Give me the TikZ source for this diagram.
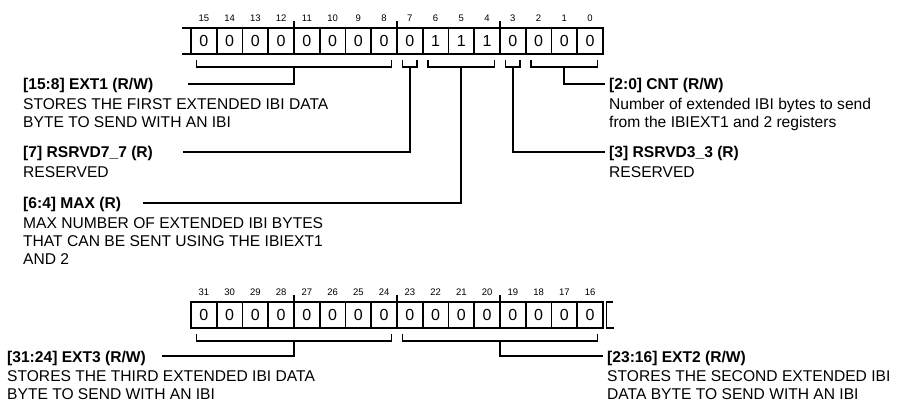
\documentclass[tikz,border=0pt]{standalone}
\usepackage{fontspec}
\setmainfont{Liberation Sans}
\usetikzlibrary{positioning, calc}

\begin{document}
\begin{tikzpicture}[
    x=1pt, y=-1pt,
    edge/.style={line width=1.8pt},
    cell/.style={rectangle, draw, line width=1.8pt, outer sep=0pt, inner sep=0pt, minimum width=25.75pt, minimum height=26pt, font=\fontsize{16}{16}\selectfont},
    bitno/.style={inner sep=0pt, font=\fontsize{9.5}{10}\selectfont},
    head/.style={inner sep=0pt, anchor=base west, font=\fontsize{15.6}{18}\selectfont\bfseries},
    desc/.style={inner sep=0pt, align=left, font=\fontsize{15.6}{18}\selectfont}
]
    \useasboundingbox (0,0) rectangle (899,403);

    \foreach \b/\v [count=\i from 0] in {15/0,14/0,13/0,12/0,11/0,10/0,9/0,8/0,7/0,6/1,5/1,4/1,3/0,2/0,1/0,0/0} {
        \node[cell] (b\b) at ({203.875+25.75*\i},41) {\v};
        \node[bitno, above=6.6pt of b\b] (n\b) {\b};
    }
    \foreach \b [count=\i from 0] in {31,...,16} {
        \node[cell] (b\b) at ({203.875+25.75*\i},315) {0};
        \node[bitno, above=6.6pt of b\b] (n\b) {\b};
    }

    \foreach \b in {12,8,4,28,24,20}
        \draw[edge] (b\b.north east) -- ++(0,-7);
    \draw[edge] ([xshift=-9pt]b15.north west) -- (b15.north west);
    \draw[edge] ([xshift=-9pt]b15.south west) -- (b15.south west);
    \draw[edge] ([xshift=10pt]b16.north east) -| ([xshift=3.5pt]b16.south east) -- ++(7,0);

    \node[head] (ext1) at (23,90) {[15:8] EXT1 (R/W)};
    \node[desc, below right=8.3pt and 0pt of ext1.base west] (ext1d) {STORES THE FIRST EXTENDED IBI DATA\\BYTE TO SEND WITH AN IBI};
    \node[head] (rsv7) at (23,158) {[7] RSRVD7\_7 (R)};
    \node[desc, below right=8.3pt and 0pt of rsv7.base west] (rsv7d) {RESERVED};
    \node[head] (max) at (23,209) {[6:4] MAX (R)};
    \node[desc, below right=8.3pt and 0pt of max.base west] (maxd) {MAX NUMBER OF EXTENDED IBI BYTES\\THAT CAN BE SENT USING THE IBIEXT1\\AND 2};
    \node[head] (cnt) at (609,90) {[2:0] CNT (R/W)};
    \node[desc, below right=8.3pt and 0pt of cnt.base west] (cntd) {Number of extended IBI bytes to send\\from the IBIEXT1 and 2 registers};
    \node[head] (rsv3) at (609,158) {[3] RSRVD3\_3 (R)};
    \node[desc, below right=8.3pt and 0pt of rsv3.base west] (rsv3d) {RESERVED};
    \node[head] (ext3) at (7,362) {[31:24] EXT3 (R/W)};
    \node[desc, below right=8.3pt and 0pt of ext3.base west] (ext3d) {STORES THE THIRD EXTENDED IBI DATA\\BYTE TO SEND WITH AN IBI};
    \node[head] (ext2) at (607,362) {[23:16] EXT2 (R/W)};
    \node[desc, below right=8.3pt and 0pt of ext2.base west] (ext2d) {STORES THE SECOND EXTENDED IBI\\DATA BYTE TO SEND WITH AN IBI};

    \foreach \l/\r/\f in {15/8/ext1,7/7/rsv7,6/4/max,3/3/rsv3,2/0/cnt,31/24/ext3,23/16/ext2} {
        \draw[edge] ([xshift=5.5pt,yshift=-6pt]b\l.south west) -- ++(0,7) -| ([xshift=-5.5pt,yshift=-6pt]b\r.south east);
        \coordinate (s\f) at ($(b\l.south west)!.5!(b\r.south east)+(0,13)$);
    }
    \foreach \f/\g in {ext1/35,rsv7/30,max/22,ext3/16}
        \draw[edge] (s\f) |- ([xshift=\g pt,yshift=6pt]\f.base east);
    \foreach \f in {cnt,rsv3,ext2}
        \draw[edge] (s\f) |- ([xshift=-4pt,yshift=6pt]\f.base west);
\end{tikzpicture}
\end{document}
